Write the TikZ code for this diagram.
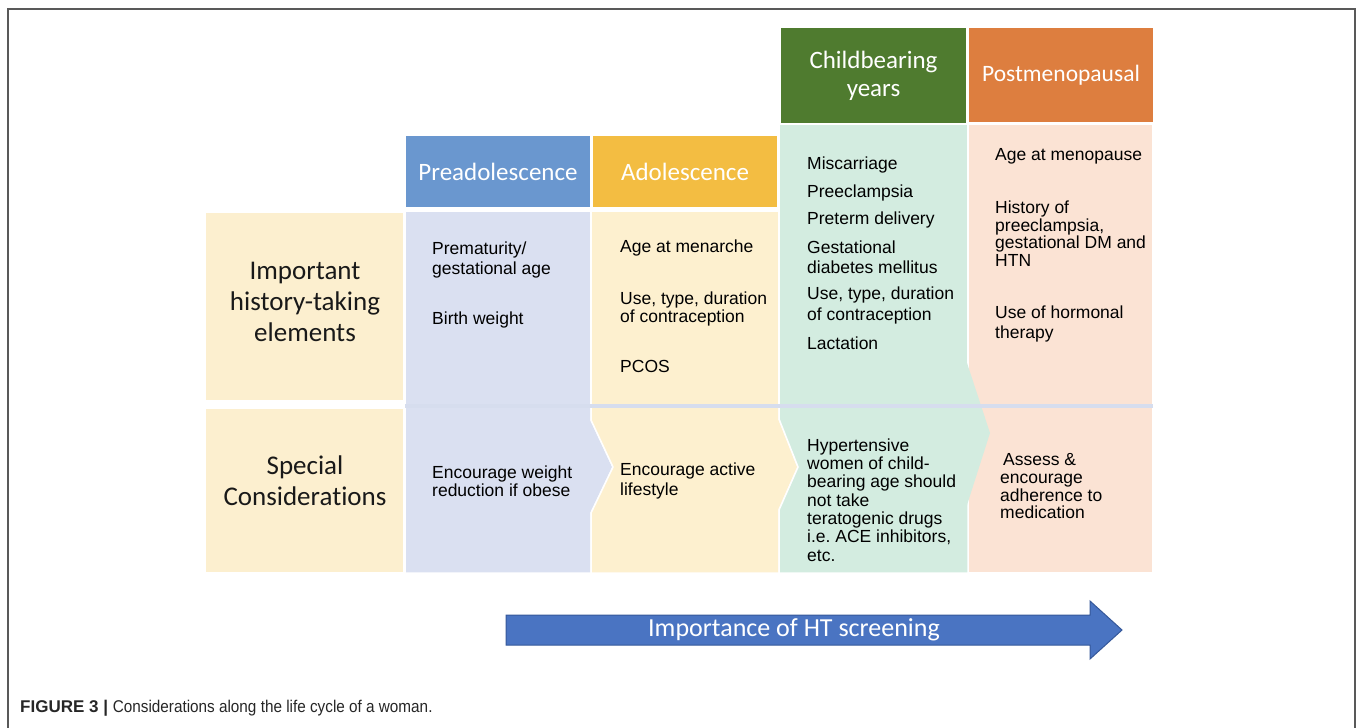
\documentclass[tikz,border=0pt]{standalone}
\usepackage{fontspec}
\setmainfont{Liberation Sans}
\newfontfamily\carlito[Ligatures=NoCommon]{Carlito}
\newfontfamily\narrow[FakeStretch=0.9]{Liberation Sans}
\usepackage{tikz}
\usetikzlibrary{shapes}

\definecolor{preHead}{HTML}{6A97CF}
\definecolor{preBody}{HTML}{DAE0F1}
\definecolor{adoHead}{HTML}{F3BD42}
\definecolor{adoBody}{HTML}{FDF0CF}
\definecolor{chiHead}{HTML}{4F7B2F}
\definecolor{chiBody}{HTML}{D3ECE0}
\definecolor{posHead}{HTML}{DD7E3F}
\definecolor{posBody}{HTML}{FBE3D4}
\definecolor{labFill}{HTML}{FCEFCF}
\definecolor{sepLine}{HTML}{D6DDEE}
\definecolor{arrFill}{HTML}{4A74C2}
\definecolor{arrEdge}{HTML}{35589A}

\tikzset{
  tile/.style = {draw=white, line width=1.5pt},
  head/.style = {tile, text=white, align=center, inner sep=0pt,
    font=\carlito\fontsize{25}{28}\selectfont},
  rowlab/.style = {align=center, text=black!90,
    font=\carlito\fontsize{27}{31}\selectfont},
  item/.style = {anchor=north west, inner sep=0pt, align=left, text=black,
    font=\fontsize{17.5}{#1}\selectfont\frenchspacing},
  item/.default = 19
}

\begin{document}
\begin{tikzpicture}[x=1pt, y=-1pt]
\useasboundingbox (0,0) rectangle (1357,728);
\draw[black!65, line width=1.6pt] (8,728) -- (8,9) -- (1355,9) -- (1355,728);

\fill[labFill] (206,213) rectangle (403,400);
\fill[labFill] (206,409) rectangle (403,572);
\node[rowlab] (hist) at (305,302) {Important\\history-taking\\elements};
\node[rowlab] (spec) at (305,481) {Special\\Considerations};

\filldraw[tile, fill=preBody] (405,211) rectangle (591,406);
\filldraw[tile, fill=adoBody] (591,211) rectangle (779,406);
\filldraw[tile, fill=chiBody] (779,124) rectangle (968,406);
\filldraw[tile, fill=posBody] (968,124) rectangle (1153,406);

\filldraw[tile, fill=preBody] (405,407) -- (591,407) -- (591,420) -- (613,467)
  -- (591,513) -- (591,573) -- (405,573) -- cycle;
\filldraw[tile, fill=adoBody] (591,407) -- (779,407) -- (779,419) -- (798,467)
  -- (779,510) -- (779,573) -- (591,573) -- (591,513) -- (613,467) -- (591,420) -- cycle;
\filldraw[tile, fill=posBody] (968,407) rectangle (1153,573);
\filldraw[tile, fill=chiBody] (779,407) -- (968,407) -- (968,573) -- (779,573)
  -- (779,510) -- (798,467) -- (779,419) -- cycle;
\fill[chiBody] (967,363) -- (990,433) -- (967,505) -- cycle;
\draw[sepLine, line width=4pt] (405,406) -- (1153,406);

\node[head, fill=preHead, minimum width=186pt, minimum height=73pt] (pre) at (498,171.5) {Preadolescence};
\node[head, fill=adoHead, minimum width=186pt, minimum height=73pt] (ado) at (685,171.5) {Adolescence};
\node[head, fill=chiHead, minimum width=187pt, minimum height=96pt] (chi) at (873.5,75.5) {Childbearing\\years};
\node[head, fill=posHead, minimum width=185pt, minimum height=96pt,
  font=\carlito\fontsize{23.5}{28}\selectfont] (pos) at (1061,75) {Postmenopausal};

\node[item=20] (pre1) at (432,241.5) {Prematurity/\\gestational age};
\node[item] (pre2) at (432,311.5) {Birth weight};
\node[item] (ado1) at (620,239.5) {Age at menarche};
\node[item=18.5] (ado2) at (620,291.5) {Use, type, duration\\of contraception};
\node[item] (ado3) at (620,360.5) {PCOS};
\node[item] (chi1) at (807,156.5) {Miscarriage};
\node[item] (chi2) at (807,185) {Preeclampsia};
\node[item] (chi3) at (807,211.5) {Preterm delivery};
\node[item=20] (chi4) at (807,240.5) {Gestational\\diabetes mellitus};
\node[item=21] (chi5) at (807,286.5) {Use, type, duration\\of contraception};
\node[item] (chi6) at (807,336.5) {Lactation};
\node[item] (pos1) at (995,148.5) {Age at menopause};
\node[item=17.7] (pos2) at (995,200.5) {History of\\preeclampsia,\\gestational DM and\\HTN};
\node[item=20] (pos3) at (995,305.5) {Use of hormonal\\therapy};

\node[item=18] (pre3) at (432,465.5) {Encourage weight\\reduction if obese};
\node[item=20] (ado4) at (620,462.5) {Encourage active\\lifestyle};
\node[item=18.3] (chi7) at (807,438.5) {Hypertensive\\women of child-\\bearing age should\\not take\\teratogenic drugs\\i.e. ACE inhibitors,\\etc.};
\node[item=17.7] (pos4) at (1000,453.5) {\hspace{3pt}Assess \&\\encourage\\adherence to\\medication};

\filldraw[fill=arrFill, draw=arrEdge, line width=1pt] (506,615) -- (1090,615) -- (1090,601)
  -- (1122,630) -- (1090,659) -- (1090,645) -- (506,645) -- cycle;
\node[text=white, font=\carlito\fontsize{26}{30}\selectfont] (scr) at (794,630) {Importance of HT screening};

\node[anchor=base west, inner sep=0pt, text=black!85, font=\fontsize{17}{20}\selectfont] (cap)
  at (20,712) {\textbf{FIGURE 3 |} {\narrow Considerations along the life cycle of a woman.}};

\end{tikzpicture}
\end{document}
